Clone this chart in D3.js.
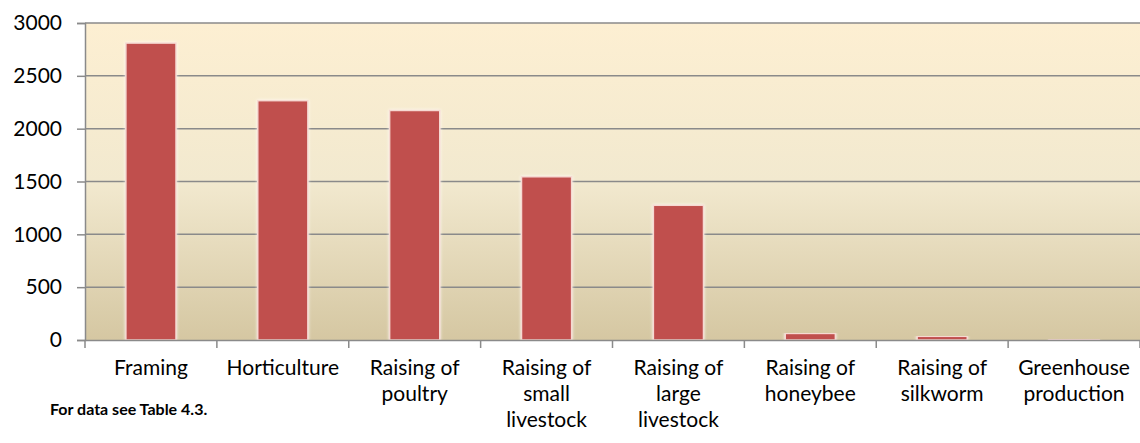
<!DOCTYPE html>
<html>
<head>
<meta charset="utf-8">
<script src="https://cdn.jsdelivr.net/npm/d3@7"></script>
<style>
  body { margin: 0; background: #fff; }
  svg { display: block; }
</style>
</head>
<body>
<svg id="chart"></svg>
<script>
const width = 1140;
const height = 443;

const categories = ["Framing", "Horticulture", "Raising of poultry", "Raising of small livestock",
    "Raising of large livestock", "Raising of honeybee", "Raising of silkworm", "Greenhouse production"];
const labelLines = [["Framing"], ["Horticulture"], ["Raising of", "poultry"], ["Raising of", "small", "livestock"],
    ["Raising of", "large", "livestock"], ["Raising of", "honeybee"], ["Raising of", "silkworm"], ["Greenhouse", "production"]];
const values = [2810, 2265, 2172, 1545, 1275, 62, 35, 4];
const yTicks = [0, 500, 1000, 1500, 2000, 2500, 3000];

const margin = {top: 23, right: 0, bottom: 103, left: 85};
const font = "Lato, 'Open Sans', sans-serif";

const svg = d3.select('#chart')
    .attr('width', width)
    .attr('height', height);

const x = d3.scaleBand()
    .domain(categories)
    .range([margin.left, width - margin.right])
    .paddingInner(0.62)
    .paddingOuter(0.31);

const y = d3.scaleLinear()
    .domain([0, 3000])
    .range([height - margin.bottom, margin.top]);

// background gradient
const defs = svg.append("defs");
const grad = defs.append("linearGradient")
    .attr("id", "bg")
    .attr("x1", 0).attr("y1", 0).attr("x2", 0).attr("y2", 1);
grad.append("stop").attr("offset", "0%").attr("stop-color", "#fdefd2");
grad.append("stop").attr("offset", "50%").attr("stop-color", "#f2e9cf");
grad.append("stop").attr("offset", "100%").attr("stop-color", "#d5c7a2");

const shadow = defs.append("filter").attr("id", "glow")
    .attr("x", "-20%").attr("y", "-5%").attr("width", "140%").attr("height", "110%");
shadow.append("feGaussianBlur").attr("in", "SourceAlpha").attr("stdDeviation", 1.5).attr("result", "b");
shadow.append("feFlood").attr("flood-color", "#ffffff").attr("flood-opacity", 0.8);
shadow.append("feComposite").attr("in2", "b").attr("operator", "in");
const merge = shadow.append("feMerge");
merge.append("feMergeNode");
merge.append("feMergeNode").attr("in", "SourceGraphic");

svg.append("rect")
    .attr("x", margin.left)
    .attr("y", margin.top)
    .attr("width", width - margin.right - margin.left)
    .attr("height", y(0) - margin.top)
    .attr("fill", "url(#bg)");

// gridlines
svg.append("g")
    .selectAll("line")
    .data(yTicks.filter(t => t > 0))
    .enter()
    .append("line")
    .attr("x1", margin.left)
    .attr("x2", width - margin.right)
    .attr("y1", d => y(d))
    .attr("y2", d => y(d))
    .style("stroke", "#8a8a8a")
    .style("stroke-width", 1.5);

// bars
svg.append("g")
    .selectAll("rect")
    .data(values)
    .enter()
    .append("rect")
    .attr("x", (d, i) => x(categories[i]))
    .attr("y", d => y(d))
    .attr("width", x.bandwidth())
    .attr("height", d => y(0) - y(d))
    .attr("fill", "#c0504d")
    .attr("stroke", "#f6d9d2")
    .attr("stroke-width", 1.5)
    .attr("filter", "url(#glow)");

// y axis
const yAxis = svg.append("g")
    .attr("transform", `translate(${margin.left},0)`)
    .call(d3.axisLeft(y).tickValues(yTicks).tickSize(8).tickPadding(15).tickFormat(d3.format("d")));
yAxis.select(".domain").attr("stroke", "#8a8a8a").attr("stroke-width", 1.5);
yAxis.selectAll(".tick line").attr("stroke", "#8a8a8a").attr("stroke-width", 1.5);
yAxis.selectAll("text")
    .attr("fill", "#000")
    .attr("font-family", font)
    .attr("font-size", "21px");

// x axis
const xAxis = svg.append("g")
    .attr("transform", `translate(0,${y(0)})`)
    .call(d3.axisBottom(x).tickSize(0).tickFormat(""));
xAxis.select(".domain").attr("stroke", "#8a8a8a").attr("stroke-width", 1.5);
const step = x.step();
xAxis.append("g")
    .selectAll("line")
    .data(d3.range(categories.length + 1))
    .enter()
    .append("line")
    .attr("x1", i => margin.left + i * step)
    .attr("x2", i => margin.left + i * step)
    .attr("y1", 0)
    .attr("y2", 8)
    .attr("stroke", "#8a8a8a")
    .attr("stroke-width", 1.5);

// category labels
const labels = svg.append("g")
    .selectAll("text")
    .data(categories)
    .enter()
    .append("text")
    .attr("x", d => x(d) + x.bandwidth() / 2)
    .attr("y", y(0) + 35)
    .attr("text-anchor", "middle")
    .attr("font-family", font)
    .attr("font-size", "21px")
    .attr("fill", "#000");
labels.selectAll("tspan")
    .data((d, i) => labelLines[i])
    .enter()
    .append("tspan")
    .attr("x", function() { return this.parentNode.getAttribute("x"); })
    .attr("dy", (d, i) => i === 0 ? 0 : 26)
    .text(d => d);

svg.append("text")
    .attr("x", 50)
    .attr("y", 415)
    .attr("font-family", font)
    .attr("font-weight", "bold")
    .attr("font-size", "16px")
    .attr("fill", "#000")
    .text("For data see Table 4.3.");
</script>
</body>
</html>
